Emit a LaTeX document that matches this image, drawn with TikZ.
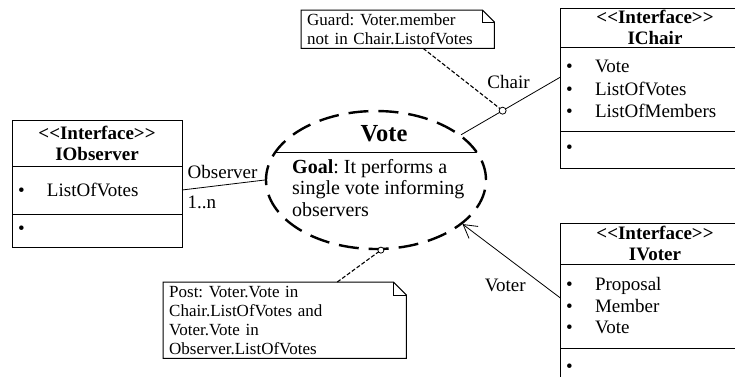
\documentclass[tikz,border=0pt]{standalone}
\usepackage{fontspec}
\setmainfont{Liberation Serif}
\usetikzlibrary{positioning,shapes.geometric,arrows.meta}
\frenchspacing
\newcommand\boxfont{\fontsize{19}{22.5}\selectfont}
\newcommand\notefont{\fontsize{17}{19}\selectfont}
\newcommand\stereo{<\kern0pt<Interface>\kern0pt>}
\newcommand\attritem{\makebox[29pt][l]{\textbullet}}
\begin{document}
\begin{tikzpicture}[x=1pt,y=-1pt,
  every node/.style={font=\boxfont},
  classhead/.style={draw,line width=1pt,outer sep=0pt,inner xsep=6pt,inner ysep=0pt,
    text width=#1,align=center,font=\fontsize{19}{21}\selectfont\bfseries},
  classpart/.style={draw,line width=1pt,outer sep=0pt,inner xsep=6pt,inner ysep=0pt,
    text width=#1,align=left},
  notebox/.style={inner xsep=6pt,inner ysep=0pt,text width=#1,align=left,font=\notefont},
  notelink/.style={line width=1.1pt,dash pattern=on 4pt off 2pt},
  assoc/.style={line width=0.8pt}]
\useasboundingbox (0,0) rectangle (735,376);

% interface IObserver
\node[classhead=158pt,minimum height=46pt,anchor=north west] (obshead) at (12,120) {\stereo\\IObserver};
\node[classpart=158pt,minimum height=48pt,below=0pt of obshead] (obsattrs) {\attritem ListOfVotes};
\node[classpart=158pt,minimum height=33pt,below=0pt of obsattrs] (obsops) {\textbullet};

% interface IChair
\node[classhead=178pt,minimum height=39pt,anchor=north west] (chairhead) at (560,8) {\stereo\\IChair};
\node[classpart=178pt,minimum height=84pt,below=0pt of chairhead] (chairattrs) {\attritem Vote\\\attritem ListOfVotes\\\attritem ListOfMembers};
\node[classpart=178pt,minimum height=37pt,below=0pt of chairattrs] (chairops) {\textbullet};

% interface IVoter
\node[classhead=178pt,minimum height=41pt,anchor=north west] (voterhead) at (560,223) {\stereo\\IVoter};
\node[classpart=178pt,minimum height=84pt,below=0pt of voterhead,font=\fontsize{19}{21.5}\selectfont] (voterattrs) {\attritem Proposal\\\attritem Member\\\attritem Vote};
\node[classpart=178pt,minimum height=40pt,below=0pt of voterattrs] (voterops) {\textbullet};

% use case Vote
\node[draw,ellipse,minimum width=220pt,minimum height=138pt,inner sep=0pt,
  line width=2.4pt,dash pattern=on 20pt off 10pt] (vote) at (376,180) {};
\coordinate (sepl) at (260,152);
\coordinate (sepr) at (492,152);
\begin{scope}
  \clip (vote.center) ellipse [x radius=110, y radius=69];
  \draw[line width=1pt] (sepl) -- (sepr);
\end{scope}
\node[anchor=base,inner sep=0pt,font=\fontsize{24.5}{28}\selectfont\bfseries] (votename) at (384,141) {Vote};
\node[anchor=north west,inner sep=0pt,align=left,font=\fontsize{20}{21.5}\selectfont] (votegoal) at (292,159)
  {\textbf{Goal}: It performs a\\single vote informing\\observers};

% notes
\node[notebox=181pt,minimum height=38pt,anchor=north west] (guard) at (301,10) {Guard: Voter.member\\not in Chair.ListofVotes};
\draw[line width=1pt] (guard.south west) -- (guard.north west) -- ([xshift=-12pt]guard.north east)
  -- ([yshift=-12pt]guard.north east) -- (guard.south east) -- cycle;
\draw[line width=1pt] ([xshift=-12pt]guard.north east) |- ([yshift=-12pt]guard.north east);

\node[notebox=231pt,minimum height=76pt,anchor=north west] (post) at (163,282)
  {Post: Voter.Vote in\\Chair.ListOfVotes and\\Voter.Vote in\\Observer.ListOfVotes};
\draw[line width=1pt] (post.south west) -- (post.north west) -- ([xshift=-13pt]post.north east)
  -- ([yshift=-13pt]post.north east) -- (post.south east) -- cycle;
\draw[line width=1pt] ([xshift=-13pt]post.north east) |- ([yshift=-13pt]post.north east);

% associations
\draw[assoc] (obsattrs.east) -- (vote.west)
  node[pos=0,anchor=base west,xshift=2pt,yshift=12pt] (obsrole) {Observer}
  node[pos=0,anchor=base west,xshift=2pt,yshift=-18pt] (obsmult) {1..n};
\draw[assoc] (chairattrs.173) -- (vote.28) coordinate[pos=0.58] (chaircirc)
  node[pos=0.5,anchor=base,xshift=-2pt,yshift=18pt] (chairrole) {Chair};
\draw[assoc,-{Straight Barb[length=13pt,width=15pt]}] (voterattrs.175) -- (vote.-27)
  node[pos=0.5,anchor=base,xshift=-6pt,yshift=-31pt] (voterrole) {Voter};

\coordinate (votecirc) at (vote.-86);
\draw[notelink] (guard.-37) -- (chaircirc);
\draw[notelink] (post.36) -- (votecirc);
\draw[assoc,fill=white] (chaircirc) circle[radius=3.5pt];
\draw[assoc,fill=white] (votecirc) circle[radius=3pt];
\end{tikzpicture}
\end{document}
